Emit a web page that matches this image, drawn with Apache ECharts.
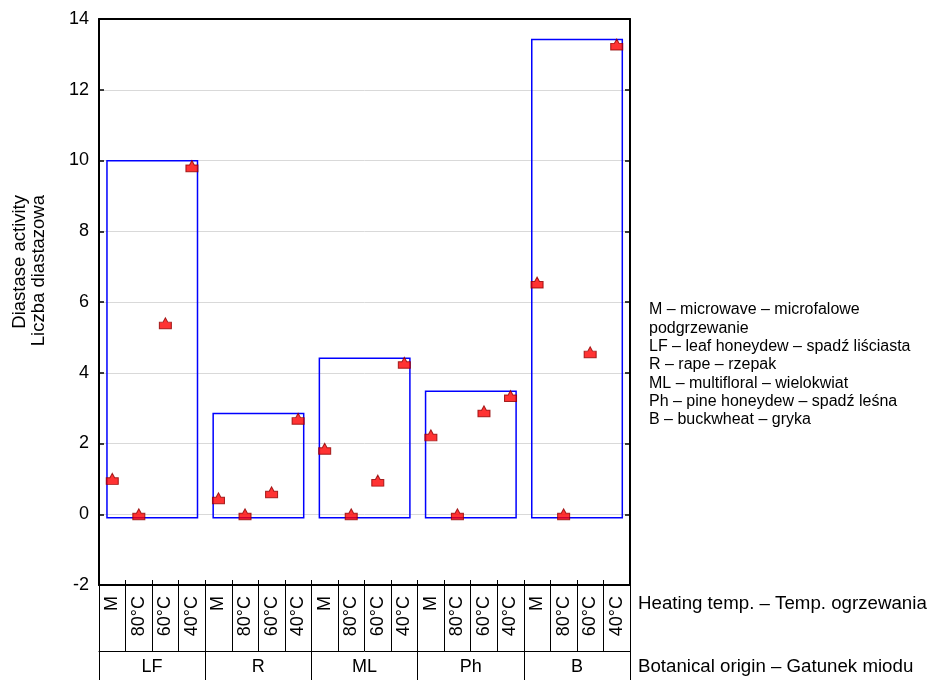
<!DOCTYPE html>
<html><head><meta charset="utf-8">
<script src="https://cdn.jsdelivr.net/npm/echarts/dist/echarts.min.js"></script>
<style>html,body{margin:0;padding:0;background:#fff}#c{width:930px;height:680px}</style>
</head><body><div id="c"></div>
<script>
// ---- data ----
const groups = ['LF', 'R', 'ML', 'Ph', 'B'];
const heating = ['M', '80°C', '60°C', '40°C'];
const valLF = [1.0, 0.0, 5.4, 9.84];
const valR  = [0.45, 0.0, 0.62, 2.7];
const valML = [1.85, 0.0, 0.95, 4.28];
const valPh = [2.23, 0.0, 2.91, 3.34];
const valB  = [6.55, 0.0, 4.58, 13.28];
const boxTop = [9.99, 2.85, 4.41, 3.48, 13.42];
const boxBottom = [-0.1, -0.1, -0.1, -0.1, -0.1];
const yMin = -2, yMax = 14, yStep = 2;
const yTitle = ['Diastase activity', 'Liczba diastazowa'];
const rowTitles = ['Heating temp. – Temp. ogrzewania', 'Botanical origin – Gatunek miodu'];
const legendLines = [
  'M – microwave – microfalowe',
  'podgrzewanie',
  'LF – leaf honeydew – spadź liściasta',
  'R – rape – rzepak',
  'ML – multifloral – wielokwiat',
  'Ph – pine honeydew – spadź leśna',
  'B – buckwheat – gryka'
];

// ---- build ----
const FONT = '"Liberation Sans", Arial, sans-serif';
const allVals = [valLF, valR, valML, valPh, valB];
const subKeys = [];
groups.forEach(g => heating.forEach(h => subKeys.push(g + '|' + h)));
const pts = [];
allVals.forEach((arr, g) => arr.forEach((v, h) => pts.push([g * 4 + h, v])));
const boxes = groups.map((g, i) => [i * 4, i * 4 + 3, boxBottom[i], boxTop[i]]);

const chart = echarts.init(document.getElementById('c'), null, {renderer: 'canvas'});
const black = '#000';
const graphics = [];
yTitle.forEach((t, i) => graphics.push({
  type: 'text', x: 20 + i * 18.5, y: 195, rotation: Math.PI / 2,
  style: {text: t, font: '18.5px ' + FONT, fill: black, textAlign: 'right', textVerticalAlign: 'middle'}
}));
graphics.push({type: 'text', x: 638, y: 604, style: {text: rowTitles[0], font: '18.7px ' + FONT, fill: black, textVerticalAlign: 'middle'}});
graphics.push({type: 'text', x: 638, y: 667, style: {text: rowTitles[1], font: '18.7px ' + FONT, fill: black, textVerticalAlign: 'middle'}});
legendLines.forEach((t, i) => graphics.push({
  type: 'text', x: 649, y: 310 + i * 18.3,
  style: {text: t, font: '16px ' + FONT, fill: black, textVerticalAlign: 'middle'}
}));

const option = {
  animation: false,
  backgroundColor: '#fff',
  textStyle: {fontFamily: FONT},
  grid: {left: 99, right: 300, top: 19, bottom: 95, containLabel: false},
  xAxis: [
    {type: 'category', data: subKeys, position: 'bottom', boundaryGap: true,
     axisLine: {show: true, onZero: false, lineStyle: {color: black, width: 2}},
     axisTick: {show: true, inside: true, length: 5, interval: 0, lineStyle: {color: black, width: 1}},
     axisLabel: {show: false}, splitLine: {show: false}},
    {type: 'category', data: subKeys, position: 'bottom', offset: 0, boundaryGap: true,
     axisLine: {show: false, onZero: false},
     axisTick: {show: true, inside: false, length: 66, interval: 0, lineStyle: {color: black, width: 1}},
     axisLabel: {show: true, interval: 0, rotate: 90, margin: 11, fontSize: 18, color: black, fontFamily: FONT,
       formatter: v => v.split('|')[1]}},
    {type: 'category', data: groups, position: 'bottom', offset: 66, boundaryGap: true,
     axisLine: {show: true, onZero: false, lineStyle: {color: black, width: 1}},
     axisTick: {show: true, inside: false, length: 30, interval: 0, lineStyle: {color: black, width: 1}},
     axisLabel: {show: true, interval: 0, margin: 7, fontSize: 18, color: black, fontFamily: FONT}},
    {type: 'category', data: subKeys, position: 'top', boundaryGap: true,
     axisLine: {show: true, onZero: false, lineStyle: {color: black, width: 2}},
     axisTick: {show: false}, axisLabel: {show: false}}
  ],
  yAxis: [
    {type: 'value', min: yMin, max: yMax, interval: yStep, position: 'left',
     axisLine: {show: true, onZero: false, lineStyle: {color: black, width: 2}},
     axisTick: {show: true, inside: true, length: 5, lineStyle: {color: black, width: 1.5}},
     axisLabel: {fontSize: 18, color: black, margin: 10, fontFamily: FONT},
     splitLine: {show: true, lineStyle: {color: '#d9d9d9', width: 1}}},
    {type: 'value', min: yMin, max: yMax, interval: yStep, position: 'right',
     axisLine: {show: true, onZero: false, lineStyle: {color: black, width: 2}},
     axisTick: {show: true, inside: true, length: 5, lineStyle: {color: black, width: 1.5}},
     axisLabel: {show: false}, splitLine: {show: false}}
  ],
  series: [
    {type: 'custom', xAxisIndex: 0, yAxisIndex: 0, data: boxes,
     encode: {x: [0, 1], y: [2, 3]},
     renderItem: function (params, api) {
       const band = api.size([1, 0])[0];
       const p0 = api.coord([api.value(0), api.value(3)]);
       const p1 = api.coord([api.value(1), api.value(2)]);
       const x0 = p0[0] - 0.2 * band, x1 = p1[0] + 0.21 * band;
       return {type: 'rect', shape: {x: x0, y: p0[1], width: x1 - x0, height: p1[1] - p0[1]},
         style: {fill: 'none', stroke: '#0000ff', lineWidth: 1.5}};
     }, z: 2},
    {type: 'scatter', xAxisIndex: 0, yAxisIndex: 0, data: pts,
     symbol: 'path://M0,10 L0,4 L3,4 L5,0 L7,4 L10,4 L10,10 Z', symbolSize: [12, 11],
     itemStyle: {color: '#ff0000', borderColor: '#900000', borderWidth: 1}, z: 3}
  ],
  graphic: graphics
};
chart.setOption(option);
</script></body></html>
